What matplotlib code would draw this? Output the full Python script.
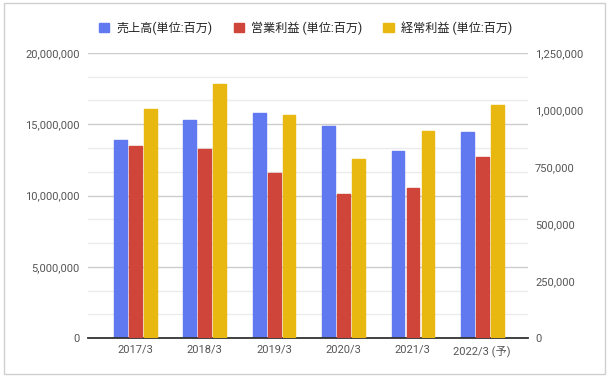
import matplotlib
matplotlib.use("Agg")
import matplotlib.pyplot as plt
from matplotlib.patches import Patch, Rectangle
from matplotlib.ticker import FuncFormatter, MultipleLocator
import numpy as np

plt.rcParams['font.family'] = ['Roboto', 'Noto Sans CJK JP', 'DejaVu Sans']

categories = ["2017/3", "2018/3", "2019/3", "2020/3", "2021/3", "2022/3 (予)"]
sales = [13900000, 15330000, 15820000, 14910000, 13150000, 14460000]
op_profit = [840000, 831000, 722000, 630000, 656000, 796000]
ord_profit = [1005000, 1112000, 976000, 787000, 910000, 1020000]
labels = ["売上高(単位:百万)", "営業利益 (単位:百万)", "経常利益 (単位:百万)"]
colors = ["#6079f0", "#cf4539", "#e9b810"]

fig = plt.figure(figsize=(6.11, 3.8), dpi=100)
fig.patches.append(Rectangle((4/611, 1-374/380), 601/611, 371/380, transform=fig.transFigure,
                             fill=False, edgecolor="#d0d0d0", linewidth=1))
ax = fig.add_axes([88/611, 42/380, 440/611, 285/380])
ax2 = ax.twinx()

x = np.arange(len(categories))
w = 0.183
step = 0.216
kw = dict(linewidth=1.0, joinstyle='round')
ax.bar(x - step, sales, w, color=colors[0], edgecolor=colors[0], zorder=3, **kw)
ax2.bar(x, op_profit, w, color=colors[1], edgecolor=colors[1], zorder=3, **kw)
ax2.bar(x + step, ord_profit, w, color=colors[2], edgecolor=colors[2], zorder=3, **kw)

ax.set_xlim(-0.684, 5.66)
ax.set_ylim(0, 20000000)
ax2.set_ylim(0, 1250000)

ax.yaxis.set_major_locator(MultipleLocator(5000000))
ax.yaxis.set_minor_locator(MultipleLocator(5000000/3))
ax2.yaxis.set_major_locator(MultipleLocator(250000))
fmt = FuncFormatter(lambda v, p: f"{int(round(v)):,}")
ax.yaxis.set_major_formatter(fmt)
ax2.yaxis.set_major_formatter(fmt)

ax.grid(which='major', axis='y', color='#cccccc', linewidth=1, zorder=0)
ax.grid(which='minor', axis='y', color='#ebebeb', linewidth=1, zorder=0)
ax.set_axisbelow(True)

for a in (ax, ax2):
    for s in a.spines.values():
        s.set_visible(False)
ax.axhline(0, color='#333333', linewidth=1.3, zorder=5, clip_on=False)

ax.set_xticks(x)
ax.set_xticklabels(categories)
tc = '#555555'
ax.tick_params(axis='x', length=0, pad=5, labelsize=8, labelcolor=tc)
ax.tick_params(axis='y', which='both', length=0, pad=6, labelsize=8, labelcolor=tc)
ax2.tick_params(axis='y', length=0, pad=5, labelsize=8, labelcolor=tc)

handles = [Patch(facecolor=c, edgecolor=c) for c in colors]
fig.legend(handles, labels, loc='center', bbox_to_anchor=(0.5, 1 - 28/380), ncol=3,
           frameon=False, fontsize=8.7, handlelength=0.85, handleheight=0.85,
           handletextpad=0.6, columnspacing=1.75, labelcolor='#222222')

fig.savefig("out.png", dpi=100)
